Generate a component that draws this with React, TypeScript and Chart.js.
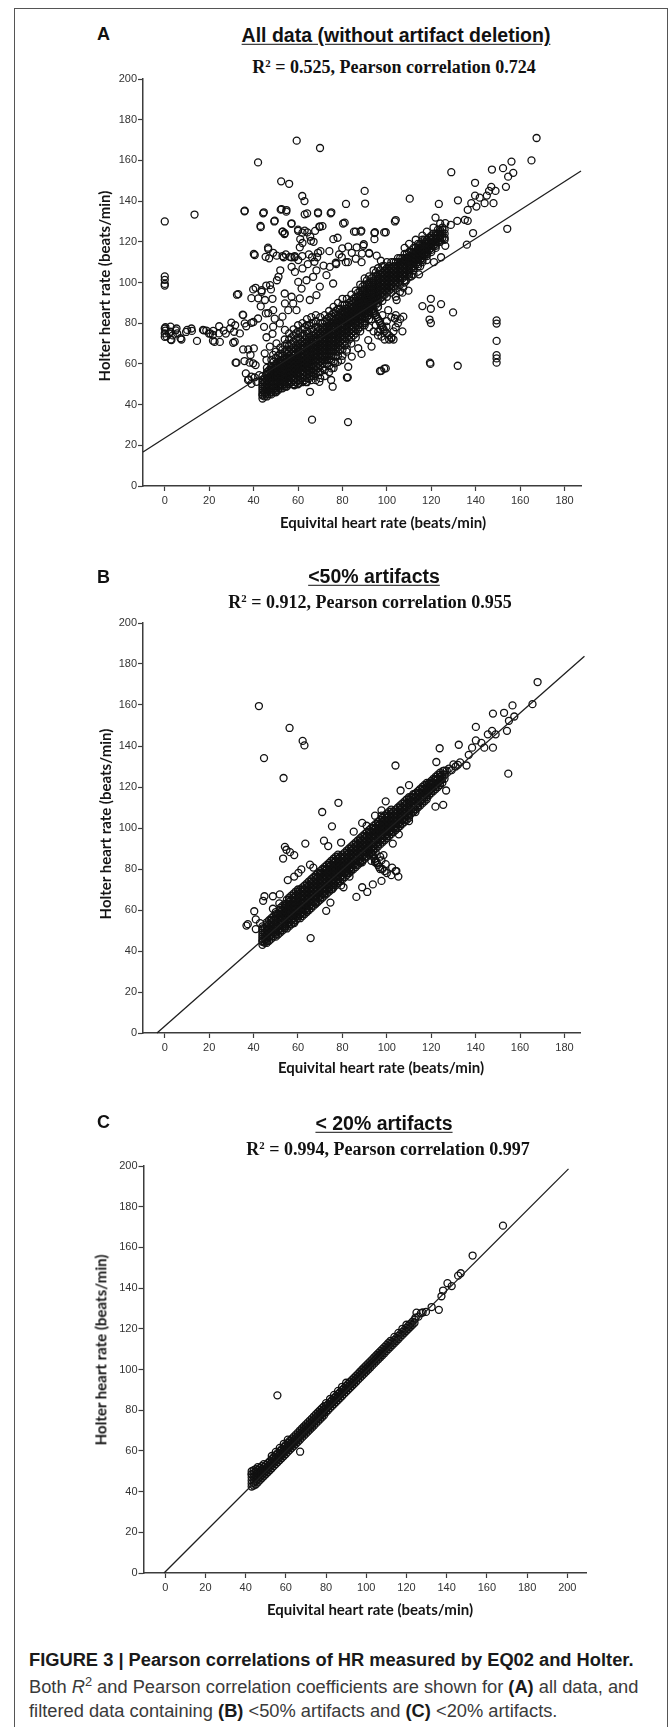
import React, { useEffect, useRef } from "react";
import { Chart, registerables } from "chart.js";
Chart.register(...registerables);

const PAGE_W = 669;
const PAGE_H = 1727;

// ---------- tick labels ----------
const yTicks = [0, 20, 40, 60, 80, 100, 120, 140, 160, 180, 200];
const xTicksAB = [0, 20, 40, 60, 80, 100, 120, 140, 160, 180];
const xTicksC = [0, 20, 40, 60, 80, 100, 120, 140, 160, 180, 200];

// ---------- Panel A: all data ----------
// dense band rows: [x, y1, y2, ...]
const bandA: number[][] = [
  [44, 43, 44.5, 46, 48, 50, 52, 54],
  [46, 44, 46, 48, 50, 52, 54, 56, 58],
  [48, 45, 47, 49, 51, 53, 55, 57, 59, 62],
  [50, 46, 48, 50, 52, 54, 56, 58, 60, 63, 66],
  [52, 48, 50, 52, 54, 56, 58, 60, 62, 65, 68],
  [54, 49, 51, 53, 55, 57, 59, 61, 63, 66, 69, 72],
  [56, 50, 52, 54, 56, 58, 60, 62, 64, 66, 69, 72, 75],
  [58, 50, 52, 54, 56, 58, 60, 62, 64, 66, 68, 71, 74, 77],
  [60, 50, 52, 54, 56, 58, 60, 62, 64, 66, 68, 70, 73, 76, 79],
  [62, 51, 53, 55, 57, 59, 61, 63, 65, 67, 69, 71, 74, 77, 80],
  [64, 51, 53, 55, 57, 59, 61, 63, 65, 67, 69, 71, 73, 76, 79, 82],
  [66, 52, 54, 56, 58, 60, 62, 64, 66, 68, 70, 72, 74, 77, 80, 83],
  [68, 52, 55, 57, 59, 61, 63, 65, 67, 69, 71, 73, 75, 78, 81, 84],
  [70, 53, 56, 59, 61, 63, 65, 67, 69, 71, 73, 75, 77, 80, 83],
  [72, 54, 57, 60, 62, 64, 66, 68, 70, 72, 74, 76, 78, 81, 84],
  [74, 56, 59, 62, 64, 66, 68, 70, 72, 74, 76, 78, 80, 83, 86],
  [76, 58, 61, 64, 66, 68, 70, 72, 74, 76, 78, 80, 82, 85, 88],
  [78, 61, 64, 66, 68, 70, 72, 74, 76, 78, 80, 82, 84, 87, 90],
  [80, 64, 67, 70, 72, 74, 76, 78, 80, 82, 84, 86, 89, 92],
  [82, 67, 70, 73, 75, 77, 79, 81, 83, 85, 87, 89, 92],
  [84, 70, 73, 75, 77, 79, 81, 83, 85, 87, 89, 91, 94],
  [86, 73, 75, 77, 79, 81, 83, 85, 87, 89, 91, 93, 96],
  [88, 76, 78, 80, 82, 84, 86, 88, 90, 92, 94, 96, 99],
  [90, 79, 81, 83, 85, 87, 89, 91, 93, 95, 97, 99, 102],
  [92, 82, 84, 86, 88, 90, 92, 94, 96, 98, 100, 103],
  [94, 85, 87, 89, 91, 93, 95, 97, 99, 101, 103, 106],
  [96, 88, 90, 92, 94, 96, 98, 100, 102, 104, 107],
  [98, 91, 93, 95, 97, 99, 101, 103, 105, 108],
  [100, 93, 95, 97, 99, 101, 103, 105, 107, 110],
  [102, 95, 97, 99, 101, 103, 105, 107, 110],
  [104, 97, 99, 101, 103, 105, 107, 110],
  [106, 99, 101, 103, 105, 107, 109, 112],
  [108, 101, 103, 105, 107, 109, 111, 114],
  [110, 104, 106, 108, 110, 112, 115],
  [112, 106, 108, 110, 112, 114, 117],
  [114, 108, 110, 112, 114, 116, 119],
  [116, 110, 112, 114, 116, 118, 121],
  [118, 113, 115, 117, 119, 121],
  [120, 115, 117, 119, 121, 123],
  [122, 118, 120, 122, 124],
  [124, 120, 122, 124, 126],
  [126, 122, 124, 126],
];
// in-between columns of the band
const coreA: number[][] = [
  [45, 44, 45.5, 47, 49, 51, 53],
  [47, 45, 47, 49, 51, 53, 55, 57],
  [49, 46, 48, 50, 52, 54, 56, 58, 61],
  [51, 47, 49, 51, 53, 55, 57, 59, 61, 64],
  [53, 48, 50, 52, 54, 56, 58, 60, 62, 64, 67],
  [55, 49, 51, 53, 55, 57, 59, 61, 63, 65, 67, 70],
  [57, 51, 53, 55, 57, 59, 61, 63, 65, 67, 70, 73],
  [59, 51, 53, 55, 57, 59, 61, 63, 65, 67, 69, 72, 75],
  [61, 52, 54, 56, 58, 60, 62, 64, 66, 68, 70, 72, 75],
  [63, 52, 54, 56, 58, 60, 62, 64, 66, 68, 70, 72, 74, 78],
  [65, 53, 55, 57, 59, 61, 63, 65, 67, 69, 71, 73, 75, 79],
  [67, 54, 56, 58, 60, 62, 64, 66, 68, 70, 72, 74, 76, 80],
  [69, 56, 58, 60, 62, 64, 66, 68, 70, 72, 74, 76, 78],
  [71, 58, 60, 62, 64, 66, 68, 70, 72, 74, 76, 78, 80],
  [73, 60, 62, 64, 66, 68, 70, 72, 74, 76, 78, 80, 82],
  [75, 62, 64, 66, 68, 70, 72, 74, 76, 78, 80, 82, 84],
  [77, 64, 66, 68, 70, 72, 74, 76, 78, 80, 82, 84, 86],
  [79, 67, 69, 71, 73, 75, 77, 79, 81, 83, 85, 87],
  [81, 69, 71, 73, 75, 77, 79, 81, 83, 85, 87, 89],
  [83, 72, 74, 76, 78, 80, 82, 84, 86, 88, 90],
  [85, 74, 76, 78, 80, 82, 84, 86, 88, 90, 92],
  [87, 77, 79, 81, 83, 85, 87, 89, 91, 93, 95],
  [89, 80, 82, 84, 86, 88, 90, 92, 94, 96, 98],
  [91, 83, 85, 87, 89, 91, 93, 95, 97, 99, 101],
  [93, 86, 88, 90, 92, 94, 96, 98, 100, 102],
  [95, 89, 91, 93, 95, 97, 99, 101, 103, 105],
  [97, 92, 94, 96, 98, 100, 102, 104, 106],
  [99, 94, 96, 98, 100, 102, 104, 106, 108],
  [101, 96, 98, 100, 102, 104, 106, 108],
  [103, 98, 100, 102, 104, 106, 108, 110],
  [105, 100, 102, 104, 106, 108, 110],
  [107, 102, 104, 106, 108, 110, 112],
  [109, 104, 106, 108, 110, 112, 114],
  [111, 107, 109, 111, 113, 115],
  [113, 109, 111, 113, 115, 117],
  [115, 111, 113, 115, 117, 119],
  [117, 113, 115, 117, 119, 121],
  [119, 116, 118, 120, 122],
  [121, 118, 120, 122, 124],
  [123, 120, 122, 124, 126],
  [125, 122, 124, 126],
];
// densest centre of the band
const fillA: number[][] = [
  [44, 45, 47, 49, 51], [46, 45, 47, 49, 51, 53, 55], [48, 46, 48, 50, 52, 54, 56, 58],
  [50, 47, 49, 51, 53, 55, 57, 59], [52, 49, 51, 53, 55, 57, 59, 61], [54, 50, 52, 54, 56, 58, 60, 62],
  [56, 51, 53, 55, 57, 59, 61, 63], [58, 53, 55, 57, 59, 61, 63, 65], [60, 55, 57, 59, 61, 63, 65, 67],
  [62, 56, 58, 60, 62, 64, 66, 68], [64, 58, 60, 62, 64, 66, 68, 70], [66, 59, 61, 63, 65, 67, 69, 71],
  [68, 62, 64, 66, 68, 70, 72], [70, 64, 66, 68, 70, 72, 74], [72, 65, 67, 69, 71, 73, 75, 77],
  [74, 67, 69, 71, 73, 75, 77, 79], [76, 69, 71, 73, 75, 77, 79, 81], [78, 71, 73, 75, 77, 79, 81, 83],
  [80, 73, 75, 77, 79, 81, 83, 85], [82, 76, 78, 80, 82, 84, 86], [84, 78, 80, 82, 84, 86, 88],
  [86, 80, 82, 84, 86, 88, 90], [88, 83, 85, 87, 89, 91, 93], [90, 86, 88, 90, 92, 94, 96],
  [92, 87, 89, 91, 93, 95, 97, 99], [94, 90, 92, 94, 96, 98, 100], [96, 93, 95, 97, 99, 101, 103],
  [98, 94, 96, 98, 100, 102, 104], [100, 96, 98, 100, 102, 104, 106], [102, 98, 100, 102, 104, 106],
  [104, 100, 102, 104, 106, 108], [106, 102, 104, 106, 108, 110], [108, 104, 106, 108, 110, 112],
  [110, 105, 107, 109, 111, 113], [112, 107, 109, 111, 113, 115], [114, 109, 111, 113, 115, 117],
  [116, 111, 113, 115, 117, 119], [118, 114, 116, 118, 120], [120, 116, 118, 120, 122],
  [122, 119, 121, 123], [124, 121, 123, 125],
];
// scattered points [x, y]
const pointsA: number[][] = [
  [59.4, 169.7], [69.9, 166.1], [42, 159], [167.4, 171], [165.1, 160], [156.1, 159.4], [152.3, 156.2],
  [147.3, 155.5], [156.9, 153.9], [154.6, 152], [129, 154.2], [139.7, 149], [147, 147], [148.9, 145],
  [146, 145], [153.6, 147], [145, 142.7], [139.7, 142.7], [141.8, 141.7], [138, 139], [144, 139],
  [148, 139], [140.3, 137.3], [136.4, 135.7], [132, 140.4], [123.4, 138.6], [110.3, 141.2], [121.9, 131.9],
  [126.3, 129.2], [128.8, 128.3], [131.7, 130.3], [135.1, 130.8], [136.4, 130.3], [125, 127], [138.8, 124.3],
  [136, 118.6], [154.2, 126.4], [126.3, 118], [124.4, 112.4], [121.2, 110],
  [52.4, 149.7], [56, 148.5], [61.9, 142.5], [62.9, 140], [81.6, 138.6], [90, 145], [90.2, 138.8],
  [35.9, 135], [44.3, 134], [52.2, 135.8], [54.7, 134.8], [63, 133.5], [69, 134], [74.7, 134],
  [43.2, 127.2], [49.3, 130], [57, 128.8], [69.6, 127.5], [80.3, 129], [85.2, 125], [88.3, 125],
  [94.4, 124.3], [98.8, 124.6], [103.6, 130], [0, 130], [13.4, 133.4],
  [53.1, 125], [53.9, 123.8], [60, 125.4], [61, 121.3], [64.2, 124.6], [65.8, 120.5], [67.7, 125.4],
  [75.9, 121.3], [79.9, 116.8], [89.4, 118], [86.4, 117.3], [94.4, 121.3],
  [40.5, 113.5], [46.6, 116.4], [47, 111.9], [50.4, 113.2], [53.5, 112.4], [57, 112.4], [58.5, 112.4],
  [60.8, 117.3], [62, 119.4], [66.3, 112.4], [68.6, 112.4], [71.5, 108.3], [77.2, 109.1], [79.7, 112.4],
  [82.5, 110], [88.6, 110], [95.4, 113.2], [97.3, 110.7], [92, 114.5],
  [32.5, 94], [35.1, 84.2], [39, 92.3], [40.9, 97.4], [43.6, 95.4], [45.7, 98.5], [47.8, 96.6], [48.5, 92],
  [43.2, 88.3], [46.6, 85], [49.5, 82.2], [44.7, 78.2], [39.9, 80.6], [36.7, 78.5], [31.7, 79], [29.4, 77.4],
  [27.5, 74.9], [24.5, 78.5], [21.8, 76.2], [19.9, 74.9], [17.6, 76.5], [14.5, 71.3], [12.2, 76.2],
  [9.6, 75.7], [5, 76.5], [7.5, 72], [2.7, 72], [0, 75], [0, 77.4], [0, 73.3], [1.9, 75], [3.6, 74],
  [22.4, 70.8], [24.8, 70.8], [30.8, 70.4], [31.9, 60.6], [35.9, 61.4], [38.2, 60.6], [40.9, 59.4],
  [37.6, 67.1], [40.1, 67.6], [37.8, 52.4], [40.5, 53.4], [39, 50.2], [0, 101.3], [0, 99.3], [0, 103], [0, 98.5],
  [0.3, 78], [0.3, 76.4], [0.8, 73.5], [2.6, 78.3], [2.6, 75.8], [3, 71.7], [5.3, 77.4], [5.6, 75],
  [7.1, 72.6], [10.1, 76.7], [12, 77.4], [17.2, 76.7], [18.7, 76.4], [20.5, 75], [21.7, 74.2],
  [21.7, 71.4], [24.4, 75], [26.5, 76.4], [30, 80.3], [31.2, 75.8], [31.5, 70.9], [33.8, 75],
  [66.3, 32.6], [82.5, 31.4], [65.4, 46.3], [82, 53.3], [96.9, 56.5], [98.8, 57.7], [119.4, 60.6],
  [119.6, 60], [131.9, 59.1], [149.4, 60.6], [149.4, 62.7], [149.4, 64.3], [149.4, 71.3], [149.4, 79.8],
  [149.4, 81.4], [116, 88.4], [119.8, 92], [119.8, 87.1], [124.4, 89.4], [129.8, 85.3], [119.2, 81.8], [119.8, 80.1],
  [36, 135.3], [44.6, 134.5], [52.6, 136.1], [54.8, 135.6], [64.1, 134], [69, 134.5], [75, 134.5],
  [49.5, 130.4], [43.1, 127.8], [57.1, 129.1], [53, 125], [54, 124.2], [60, 126], [62, 124.5], [63, 125.5],
  [65.5, 122.5], [67, 120], [69.8, 127.4], [71, 127.7], [81, 129.4], [77.8, 122], [82.6, 117.6],
  [86, 125], [88.5, 125.5], [89.6, 118.8], [94.6, 124.7], [99.5, 124.7], [104, 130.7],
  [40.1, 114], [46.5, 117.1], [45.4, 112.6], [48.8, 114.6], [53, 113], [54.5, 113.8], [56.3, 112.6],
  [58.5, 113], [61.9, 113], [64.9, 113.8], [69, 114.6], [70.1, 115.4], [74.1, 115.4], [77, 109.7],
  [78.5, 113.8], [81.5, 110], [84.2, 114.6], [86, 111.7], [88.8, 114.2], [92, 114.2],
  [33.1, 94.3], [39.8, 96.6], [42.1, 92.2], [45.1, 91.4], [43.6, 96.2], [47.4, 98.7], [50.5, 101.1],
  [51.2, 102.8], [52, 106], [54, 94.6], [48.8, 86.4], [45.5, 84.8], [42, 82.3], [39, 80.2], [35.3, 84],
  [36, 79.9], [35.3, 67.1], [38.6, 64.4], [39.8, 60.3], [32.3, 60.6], [36.5, 55.3], [37.5, 52],
  [39, 53.7], [42.5, 54.5], [41.3, 51.2], [46.5, 55.3], [45.8, 61.9], [45, 65.2], [48.8, 64.4],
  [47.3, 68.5], [50.3, 70.1], [45.8, 73.1], [48.5, 74.8], [48.8, 78.3], [51.8, 79.9], [54.1, 76.7],
  [53, 83.2], [55.6, 86.4], [54.1, 89.7], [57.1, 93], [57.8, 89.7], [59.3, 86.4], [60.8, 92.2],
  [61.6, 97], [60.1, 100.3], [63.8, 101.1], [66.8, 102.8], [65.3, 91.4], [68.3, 93.8], [69.8, 98],
  [72.8, 103.6], [75.8, 99.5], [74.3, 107.7], [68.3, 106], [62, 106.9], [58.6, 105.2], [64.4, 109],
  [60.1, 111], [57.1, 107.7], [67.4, 110.2],
  [74.9, 52.1], [75.6, 48.8], [69.6, 51.2], [63.6, 51.2], [60.6, 50.7], [58.3, 49.5], [51.6, 49.5],
  [54.6, 48.8], [50.1, 46.3], [82.4, 53.4], [97.5, 56.6], [99.5, 57.8], [79.6, 61.9], [84.2, 63.6],
  [87.1, 67.7], [88.6, 64.9], [81.8, 66], [76.6, 60.3], [75.1, 57.8], [82.6, 58.6], [91.6, 71.7],
  [93.1, 68.5], [96.1, 75.8], [97.6, 73.4], [99.8, 78.3], [102.1, 72.6], [103.6, 82.3], [107.4, 83.2],
  [100.6, 86.4], [104.4, 91.4], [105.9, 95.4], [107.4, 97.5],
  [89, 96], [90, 94], [91, 92], [92, 90], [93, 88], [94, 86], [95, 84], [96, 82], [97, 80], [98, 78],
  [99, 76], [100, 75], [101, 74], [102, 73], [103, 76], [104, 78], [105, 80], [95, 79], [97, 77],
  [93, 82], [91, 85], [100, 81], [102, 83], [104, 84], [96, 74], [94, 76], [99, 72], [101, 72],
  [92, 78], [90, 80], [88, 82], [106, 82], [107, 76], [103, 72], [98, 84], [96, 88],
  [90.5, 93], [91.5, 91], [92.5, 89], [93.5, 87], [94.5, 85], [95.5, 83], [96.5, 81], [97.5, 79], [98.5, 77],
  [108, 100], [110, 103], [112, 104], [115, 108], [118, 111], [105, 112], [108, 117], [110, 119],
  [113, 121], [116, 123], [118, 125], [121, 127], [124, 129], [122, 117], [126, 121],
  [108.7, 101], [111, 103], [114.5, 104], [104, 93], [107, 95], [109.7, 96],
];
const fitA: number[][] = [[-9.8, 16.7], [187.4, 154.8]];

// ---------- Panel B: <50% artifacts ----------
const bandB: number[][] = [
  [44, 43, 44.5, 46, 48, 50, 52],
  [46, 44, 46, 48, 50, 52, 54],
  [48, 46, 48, 50, 52, 54, 56],
  [50, 47, 49, 51, 53, 55, 57, 59],
  [52, 49, 51, 53, 55, 57, 59, 61],
  [54, 51, 53, 55, 57, 59, 61, 63],
  [56, 52, 54, 56, 58, 60, 62, 64, 66],
  [58, 54, 56, 58, 60, 62, 64, 66, 68],
  [60, 56, 58, 60, 62, 64, 66, 68, 70],
  [62, 57, 59, 61, 63, 65, 67, 69, 71],
  [64, 59, 61, 63, 65, 67, 69, 71, 73],
  [66, 61, 63, 65, 67, 69, 71, 73, 75],
  [68, 63, 65, 67, 69, 71, 73, 75, 77],
  [70, 65, 67, 69, 71, 73, 75, 77, 79],
  [72, 67, 69, 71, 73, 75, 77, 79, 81],
  [74, 69, 71, 73, 75, 77, 79, 81, 83],
  [76, 71, 73, 75, 77, 79, 81, 83, 85],
  [78, 73, 75, 77, 79, 81, 83, 85, 87],
  [80, 75, 77, 79, 81, 83, 85, 87],
  [82, 77, 79, 81, 83, 85, 87, 89],
  [84, 79, 81, 83, 85, 87, 89, 91],
  [86, 81, 83, 85, 87, 89, 91, 93],
  [88, 83, 85, 87, 89, 91, 93, 95],
  [90, 85, 87, 89, 91, 93, 95, 97],
  [92, 87, 89, 91, 93, 95, 97, 99],
  [94, 89, 91, 93, 95, 97, 99, 101],
  [96, 91, 93, 95, 97, 99, 101, 103],
  [98, 93, 95, 97, 99, 101, 103, 105],
  [100, 95, 97, 99, 101, 103, 105, 107],
  [102, 97, 99, 101, 103, 105, 107, 109],
  [104, 99, 101, 103, 105, 107, 109],
  [106, 101, 103, 105, 107, 109, 111],
  [108, 103, 105, 107, 109, 111, 113],
  [110, 105, 107, 109, 111, 113, 115],
  [112, 108, 110, 112, 114, 116],
  [114, 110, 112, 114, 116, 118],
  [116, 112, 114, 116, 118, 120],
  [118, 114, 116, 118, 120, 122],
  [120, 117, 119, 121, 123],
  [122, 119, 121, 123, 125],
  [124, 121, 123, 125, 127],
  [126, 124, 126, 128],
];
const coreB: number[][] = [
  [45, 44, 45.5, 47, 49, 51],
  [47, 45, 47, 49, 51, 53, 55],
  [49, 47, 49, 51, 53, 55, 57],
  [51, 48, 50, 52, 54, 56, 58],
  [53, 50, 52, 54, 56, 58, 60, 62],
  [55, 51, 53, 55, 57, 59, 61, 63, 65],
  [57, 53, 55, 57, 59, 61, 63, 65, 67],
  [59, 55, 57, 59, 61, 63, 65, 67, 69],
  [61, 56, 58, 60, 62, 64, 66, 68, 70],
  [63, 58, 60, 62, 64, 66, 68, 70, 72],
  [65, 60, 62, 64, 66, 68, 70, 72, 74],
  [67, 62, 64, 66, 68, 70, 72, 74, 76],
  [69, 64, 66, 68, 70, 72, 74, 76, 78],
  [71, 66, 68, 70, 72, 74, 76, 78, 80],
  [73, 68, 70, 72, 74, 76, 78, 80, 82],
  [75, 70, 72, 74, 76, 78, 80, 82, 84],
  [77, 72, 74, 76, 78, 80, 82, 84, 86],
  [79, 74, 76, 78, 80, 82, 84, 86],
  [81, 76, 78, 80, 82, 84, 86, 88],
  [83, 78, 80, 82, 84, 86, 88, 90],
  [85, 80, 82, 84, 86, 88, 90, 92],
  [87, 82, 84, 86, 88, 90, 92, 94],
  [89, 84, 86, 88, 90, 92, 94, 96],
  [91, 86, 88, 90, 92, 94, 96, 98],
  [93, 88, 90, 92, 94, 96, 98, 100],
  [95, 90, 92, 94, 96, 98, 100, 102],
  [97, 92, 94, 96, 98, 100, 102, 104],
  [99, 94, 96, 98, 100, 102, 104, 106],
  [101, 96, 98, 100, 102, 104, 106, 108],
  [103, 98, 100, 102, 104, 106, 108],
  [105, 100, 102, 104, 106, 108, 110],
  [107, 102, 104, 106, 108, 110, 112],
  [109, 104, 106, 108, 110, 112, 114],
  [111, 107, 109, 111, 113, 115],
  [113, 109, 111, 113, 115, 117],
  [115, 111, 113, 115, 117, 119],
  [117, 113, 115, 117, 119, 121],
  [119, 116, 118, 120, 122],
  [121, 118, 120, 122, 124],
  [123, 120, 122, 124, 126],
  [125, 122, 124, 126],
];
const fillB: number[][] = [
  [44, 45, 47, 49, 51], [46, 45, 47, 49, 51, 53], [48, 47, 49, 51, 53, 55], [50, 48, 50, 52, 54, 56, 58],
  [52, 50, 52, 54, 56, 58, 60], [54, 52, 54, 56, 58, 60, 62], [56, 53, 55, 57, 59, 61, 63, 65],
  [58, 55, 57, 59, 61, 63, 65, 67], [60, 57, 59, 61, 63, 65, 67, 69], [62, 58, 60, 62, 64, 66, 68, 70],
  [64, 60, 62, 64, 66, 68, 70, 72], [66, 62, 64, 66, 68, 70, 72, 74], [68, 64, 66, 68, 70, 72, 74, 76],
  [70, 66, 68, 70, 72, 74, 76, 78], [72, 68, 70, 72, 74, 76, 78, 80], [74, 70, 72, 74, 76, 78, 80, 82],
  [76, 72, 74, 76, 78, 80, 82, 84], [78, 74, 76, 78, 80, 82, 84, 86], [80, 76, 78, 80, 82, 84, 86],
  [82, 78, 80, 82, 84, 86, 88], [84, 80, 82, 84, 86, 88, 90], [86, 82, 84, 86, 88, 90, 92],
  [88, 84, 86, 88, 90, 92, 94], [90, 86, 88, 90, 92, 94, 96], [92, 88, 90, 92, 94, 96, 98],
  [94, 90, 92, 94, 96, 98, 100], [96, 92, 94, 96, 98, 100, 102], [98, 94, 96, 98, 100, 102, 104],
  [100, 96, 98, 100, 102, 104, 106], [102, 98, 100, 102, 104, 106, 108], [104, 100, 102, 104, 106, 108],
  [106, 102, 104, 106, 108, 110], [108, 104, 106, 108, 110, 112], [110, 106, 108, 110, 112, 114],
  [112, 109, 111, 113, 115], [114, 111, 113, 115, 117], [116, 113, 115, 117, 119], [118, 115, 117, 119, 121],
  [120, 118, 120, 122], [122, 120, 122, 124], [124, 122, 124, 126],
];
const pointsB: number[][] = [
  [42.4, 159.5], [44.7, 134.1], [56.2, 148.8], [62.1, 142.5], [62.9, 140.3], [53.5, 124.4], [103.9, 130.5],
  [78.2, 112.3], [70.9, 107.8], [75.3, 100.8], [63.3, 92.4], [54.1, 90.8], [54.8, 89.4], [56.4, 88.2],
  [58.3, 86.8], [53.3, 85.1],
  [167.9, 171.2], [165.6, 160.4], [156.6, 159.8], [152.8, 156.2], [147.8, 155.8], [157.4, 154.4], [155, 152.3],
  [140.1, 149.3], [147.4, 147.4], [149, 145.7], [145.5, 145.7], [154.1, 147.4], [140.1, 142.7], [142.6, 141.5],
  [138.4, 139.2], [143.9, 139.2], [147.8, 139.2], [132.4, 140.6], [123.8, 138.9], [136.9, 135.7], [122.3, 132.2],
  [132, 130.8], [135.9, 130.5], [129.2, 128.2], [125.4, 127.9], [154.7, 126.5], [126.7, 118.3], [121.9, 110.4],
  [125.4, 111.3], [127, 128], [128, 129], [130, 131], [131, 130], [133, 132], [126, 126],
  [86.3, 66.4], [88.9, 71.1], [91.2, 68.8], [93.7, 72.5], [97.6, 74.2], [104.3, 79], [105.2, 76.3],
  [102.7, 92.4], [105.4, 96.9], [65.7, 46.3], [40.3, 59.4], [37.4, 53.1], [36.8, 52.4], [41, 50.7],
  [44.9, 66.7], [44.3, 64.5], [48.7, 66.7], [51.8, 67.6], [61.5, 79.8], [65.4, 82.1], [69.8, 77.6],
  [74.6, 63.6], [72.7, 59.6], [80.5, 71.1],
  [41, 55.4], [42.9, 53.6], [48.7, 60.6], [51.6, 63.2], [55.4, 74.6], [58.3, 76.3], [60.2, 78.1],
  [66.9, 80.7], [71.7, 93.8], [73.6, 91.2], [79.4, 92.9], [85.1, 98.2], [88.9, 102.5], [90.9, 101.1],
  [94.7, 106], [97.6, 106], [99.5, 113], [97.6, 108.6], [94.7, 83.3], [97.6, 84.2], [99.5, 82.4],
  [98.5, 86.8], [102.4, 80.7], [90.9, 88.6], [88.9, 83.3], [83.2, 76.3], [79.4, 72], [75.5, 70.2],
  [71.7, 67.6], [67.9, 63.2], [64, 59.7], [60.2, 57.1], [58.3, 53.6], [54.4, 51.9], [50.2, 51.9],
  [46.8, 50.1], [110, 103.4], [112.9, 107.8], [114.8, 113], [117.7, 116.5], [119.6, 121.7], [121.5, 123.5],
  [111.9, 116.5], [110, 120.9], [106.2, 118.3],
  [92, 90], [93, 88], [94, 86], [95, 84], [96, 82], [97, 80], [99, 79], [100, 78], [102, 77], [104, 79],
  [95, 88], [97, 86], [93, 84], [93.5, 87], [94.5, 85], [95.5, 83], [96.5, 81], [98, 80],
];
const fitB: number[][] = [[-3.5, 0], [189, 183.8]];

// ---------- Panel C: <20% artifacts ----------
const bandC: number[][] = [
  [43, 42.5, 44, 45.5, 47, 48.5, 50], [44, 43, 44.5, 46, 47.5, 49, 50.5], [45, 43.5, 45, 46.5, 48, 49.5, 51],
  [46, 44.5, 46, 47.5, 49, 50.5, 52], [47, 45.5, 47, 48.5, 50, 51.5], [48, 46.5, 48, 49.5, 51, 52.5],
  [49, 47.5, 49, 50.5, 52, 53.5], [50, 48.5, 50, 51.5, 53], [51, 49.5, 51, 52.5, 54], [52, 50.5, 52, 53.5, 55],
  [53, 51.5, 53, 54.5, 56, 57.5], [54, 52.5, 54, 55.5, 57], [55, 53.5, 55, 56.5, 58, 59.5], [56, 54.5, 56, 57.5, 59],
  [57, 55.5, 57, 58.5, 60, 61.5], [58, 56.5, 58, 59.5, 61], [59, 57.5, 59, 60.5, 62, 63.5], [60, 58.5, 60, 61.5, 63],
  [61, 59.5, 61, 62.5, 64, 65.5], [62, 60.5, 62, 63.5, 65], [63, 61.5, 63, 64.5, 66], [64, 62.5, 64, 65.5, 67],
  [65, 63.5, 65, 66.5, 68], [66, 64.5, 66, 67.5, 69], [67, 65.5, 67, 68.5, 70], [68, 66.5, 68, 69.5, 71],
  [69, 67.5, 69, 70.5, 72], [70, 68.5, 70, 71.5, 73], [71, 69.5, 71, 72.5, 74], [72, 70.5, 72, 73.5, 75],
  [73, 71.5, 73, 74.5, 76], [74, 72.5, 74, 75.5, 77], [75, 73.5, 75, 76.5, 78], [76, 74.5, 76, 77.5, 79],
  [77, 75.5, 77, 78.5, 80], [78, 76.5, 78, 79.5, 81], [79, 77.5, 79, 80.5, 82], [80, 79, 80.5, 82, 83.5],
  [81, 80, 81.5, 83], [82, 81, 82.5, 84, 85.5], [83, 82, 83.5, 85], [84, 83, 84.5, 86, 87.5], [85, 84, 85.5, 87],
  [86, 85, 86.5, 88, 89.5], [87, 86, 87.5, 89], [88, 87, 88.5, 90, 91.5], [89, 88, 89.5, 91], [90, 89, 90.5, 92, 93.5],
  [91, 90, 91.5, 93], [92, 91, 92.5, 94], [93, 92, 93.5, 95], [94, 93, 94.5, 96], [95, 94, 95.5, 97],
  [96, 95, 96.5, 98], [97, 96, 97.5, 99], [98, 97, 98.5, 100], [99, 98, 99.5, 101], [100, 99, 100.5, 102],
  [101, 100, 101.5, 103], [102, 101, 102.5, 104], [103, 102, 103.5, 105], [104, 103, 104.5, 106],
  [105, 104, 105.5, 107], [106, 105, 106.5, 108], [107, 106, 107.5, 109], [108, 107, 108.5, 110],
  [109, 108, 109.5, 111], [110, 109, 110.5, 112], [111, 110, 111.5, 113], [112, 111, 112.5, 114],
  [113, 112, 113.5], [114, 113, 114.5, 116], [115, 114, 115.5], [116, 115, 116.5, 118], [117, 116, 117.5],
  [118, 117, 118.5, 120], [119, 118, 119.5], [120, 119, 120.5, 122], [121, 120, 121.5], [122, 121, 122.5],
  [123, 122, 123.5], [124, 123, 124.5],
];
const pointsC: number[][] = [
  [55.8, 87.3], [168, 170.7], [152.9, 156], [147, 147.3], [145.7, 146.1], [140.4, 142.4], [142.5, 141],
  [138.2, 138.8], [137.4, 136], [136.1, 129.3], [132.5, 130.7], [129.7, 128.3], [127.2, 127.7], [125, 127.9],
  [67.1, 59.6], [43, 48.5], [126, 126], [128, 128], [124.5, 125.5],
];
const fitC: number[][] = [[-0.6, 0], [200.6, 198.6]];

// ---------- chart component ----------
type PanelProps = {
  bands: number[][];
  pts: number[][];
  fit: number[][];
  xMin: number;
  xMax: number;
  xTicks: number[];
  L: number;
  R: number;
  T: number;
  B: number;
};

const AXIS_COLOR = "#3c3c3c";
const TICK_FONT = { family: "'Liberation Sans', Arial, sans-serif", size: 11 };

function ScatterPanel(p: PanelProps) {
  const ref = useRef<HTMLCanvasElement | null>(null);
  const padTop = 20;
  const axisH = 30;
  const h = p.B - p.T + padTop + axisH;
  useEffect(() => {
    if (!ref.current) return;
    const scatterData = [
      ...p.bands.flatMap(([x, ...ys]) => ys.map((y) => ({ x, y }))),
      ...p.pts.map(([x, y]) => ({ x, y })),
    ];
    const chart = new Chart(ref.current, {
      type: "scatter",
      data: {
        datasets: [
          {
            type: "scatter",
            data: scatterData,
            pointRadius: 3.5,
            pointHoverRadius: 3.5,
            pointBorderWidth: 1.3,
            pointBorderColor: "#111",
            pointBackgroundColor: "rgba(0,0,0,0)",
            order: 2,
          } as any,
          {
            type: "line",
            data: p.fit.map(([x, y]) => ({ x, y })),
            borderColor: "#1e1e1e",
            borderWidth: 1.3,
            pointRadius: 0,
            fill: false,
            tension: 0,
            clip: false,
            order: 1,
          } as any,
        ],
      },
      options: {
        responsive: false,
        animation: false,
        events: [],
        layout: { padding: { top: padTop, left: 0, right: PAGE_W - p.R, bottom: 0 } },
        plugins: { legend: { display: false }, tooltip: { enabled: false }, title: { display: false } },
        scales: {
          x: {
            type: "linear",
            min: p.xMin,
            max: p.xMax,
            afterBuildTicks: (ax: any) => {
              ax.ticks = p.xTicks.map((v) => ({ value: v }));
            },
            afterFit: (s: any) => {
              s.height = axisH;
            },
            grid: { display: true, drawOnChartArea: false, drawTicks: true, tickLength: 5, tickColor: AXIS_COLOR, tickWidth: 1.2 },
            border: { display: true, color: AXIS_COLOR, width: 1.5 },
            ticks: { color: "#333", font: TICK_FONT, padding: 3, autoSkip: false, maxRotation: 0 },
          },
          y: {
            type: "linear",
            min: 0,
            max: 200,
            afterBuildTicks: (ax: any) => {
              ax.ticks = yTicks.map((v) => ({ value: v }));
            },
            afterFit: (s: any) => {
              s.width = p.L;
            },
            grid: { display: true, drawOnChartArea: false, drawTicks: true, tickLength: 5, tickColor: AXIS_COLOR, tickWidth: 1.2 },
            border: { display: true, color: AXIS_COLOR, width: 1.5 },
            ticks: { color: "#333", font: TICK_FONT, padding: 1, autoSkip: false },
          },
        },
      } as any,
    });
    return () => chart.destroy();
  }, []);
  return (
    <canvas
      ref={ref}
      width={PAGE_W}
      height={h}
      style={{ position: "absolute", left: 0, top: p.T - padTop, width: PAGE_W, height: h, display: "block" }}
    />
  );
}

// ---------- text helpers ----------
type TxtProps = { x: number; y: number; center?: boolean; rotate?: boolean; style?: React.CSSProperties; children: React.ReactNode };
function Txt({ x, y, center, rotate, style, children }: TxtProps) {
  let transform = center ? "translate(-50%,-50%)" : "translate(0,-50%)";
  if (rotate) transform = "translate(-50%,-50%) rotate(-90deg)";
  return (
    <div style={{ position: "absolute", left: x, top: y, transform, whiteSpace: "nowrap", lineHeight: 1.15, ...style }}>
      {children}
    </div>
  );
}

const letterStyle: React.CSSProperties = { fontFamily: "'Liberation Sans', Arial, sans-serif", fontWeight: 700, fontSize: 18, color: "#111" };
const titleStyle: React.CSSProperties = { fontFamily: "'Liberation Sans', Arial, sans-serif", fontWeight: 700, fontSize: 19.5, color: "#111", textDecoration: "underline", textUnderlineOffset: 2 };
const subStyle: React.CSSProperties = { fontFamily: "'Liberation Serif', 'Times New Roman', serif", fontWeight: 700, fontSize: 18, color: "#111" };
const axisTitleStyle: React.CSSProperties = { fontFamily: "Lato, 'Open Sans', sans-serif", fontWeight: 700, fontSize: 15, color: "#141414" };
const capStyle: React.CSSProperties = { fontFamily: "'Liberation Sans', Arial, sans-serif", fontSize: 18.3, color: "#3a3a3a" };

function Sub({ r2, pc }: { r2: string; pc: string }) {
  return (
    <>
      R<sup style={{ fontSize: "0.6em", verticalAlign: "0.55em" }}>2</sup> = {r2}, Pearson correlation {pc}
    </>
  );
}

export default function App() {
  useEffect(() => {
    document.body.style.margin = "0";
    document.documentElement.style.overflow = "hidden";
    document.body.style.background = "#fff";
  }, []);
  return (
    <div style={{ position: "absolute", left: 0, top: 0, width: PAGE_W, height: PAGE_H, overflow: "hidden", background: "#fff" }}>
      <div style={{ position: "absolute", left: 14, top: 8, width: 652, height: PAGE_H + 20, border: "1px solid #555" }} />

      {/* Panel A */}
      <Txt x={97} y={34} style={letterStyle}>A</Txt>
      <Txt x={396} y={35} center style={titleStyle}>All data (without artifact deletion)</Txt>
      <Txt x={394} y={67} center style={subStyle}><Sub r2="0.525" pc="0.724" /></Txt>
      <ScatterPanel bands={[...bandA, ...coreA, ...fillA]} pts={pointsA} fit={fitA} xMin={-9.8} xMax={187.4} xTicks={xTicksAB} L={143} R={581} T={79} B={486} />
      <Txt x={383} y={523} center style={axisTitleStyle}>Equivital heart rate (beats/min)</Txt>
      <Txt x={104.5} y={286} rotate style={axisTitleStyle}>Holter heart rate (beats/min)</Txt>

      {/* Panel B */}
      <Txt x={97} y={577} style={letterStyle}>B</Txt>
      <Txt x={374} y={576} center style={titleStyle}>&lt;50% artifacts</Txt>
      <Txt x={370} y={602} center style={subStyle}><Sub r2="0.912" pc="0.955" /></Txt>
      <ScatterPanel bands={[...bandB, ...coreB, ...fillB]} pts={pointsB} fit={fitB} xMin={-9.8} xMax={187} xTicks={xTicksAB} L={143} R={580} T={623} B={1033} />
      <Txt x={381} y={1068} center style={axisTitleStyle}>Equivital heart rate (beats/min)</Txt>
      <Txt x={106} y={824} rotate style={axisTitleStyle}>Holter heart rate (beats/min)</Txt>

      {/* Panel C */}
      <Txt x={97} y={1122} style={letterStyle}>C</Txt>
      <Txt x={384} y={1123} center style={titleStyle}>&lt; 20% artifacts</Txt>
      <Txt x={388} y={1149} center style={subStyle}><Sub r2="0.994" pc="0.997" /></Txt>
      <ScatterPanel bands={bandC} pts={pointsC} fit={fitC} xMin={-10.8} xMax={209.3} xTicks={xTicksC} L={143.5} R={586} T={1166} B={1573} />
      <Txt x={370} y={1610} center style={axisTitleStyle}>Equivital heart rate (beats/min)</Txt>
      <Txt x={101} y={1350} rotate style={axisTitleStyle}>Holter heart rate (beats/min)</Txt>

      {/* Caption */}
      <Txt x={29} y={1660} style={{ ...capStyle, fontWeight: 700, color: "#1a1a1a" }}>
        FIGURE 3 | Pearson correlations of HR measured by EQ02 and Holter.
      </Txt>
      <Txt x={29} y={1686} style={capStyle}>
        Both <i>R</i><sup style={{ fontSize: "0.7em", verticalAlign: "0.5em" }}>2</sup> and Pearson correlation coefficients are shown for <b style={{ color: "#1a1a1a" }}>(A)</b> all data, and
      </Txt>
      <Txt x={29} y={1711} style={capStyle}>
        filtered data containing <b style={{ color: "#1a1a1a" }}>(B)</b> &lt;50% artifacts and <b style={{ color: "#1a1a1a" }}>(C)</b> &lt;20% artifacts.
      </Txt>
    </div>
  );
}
